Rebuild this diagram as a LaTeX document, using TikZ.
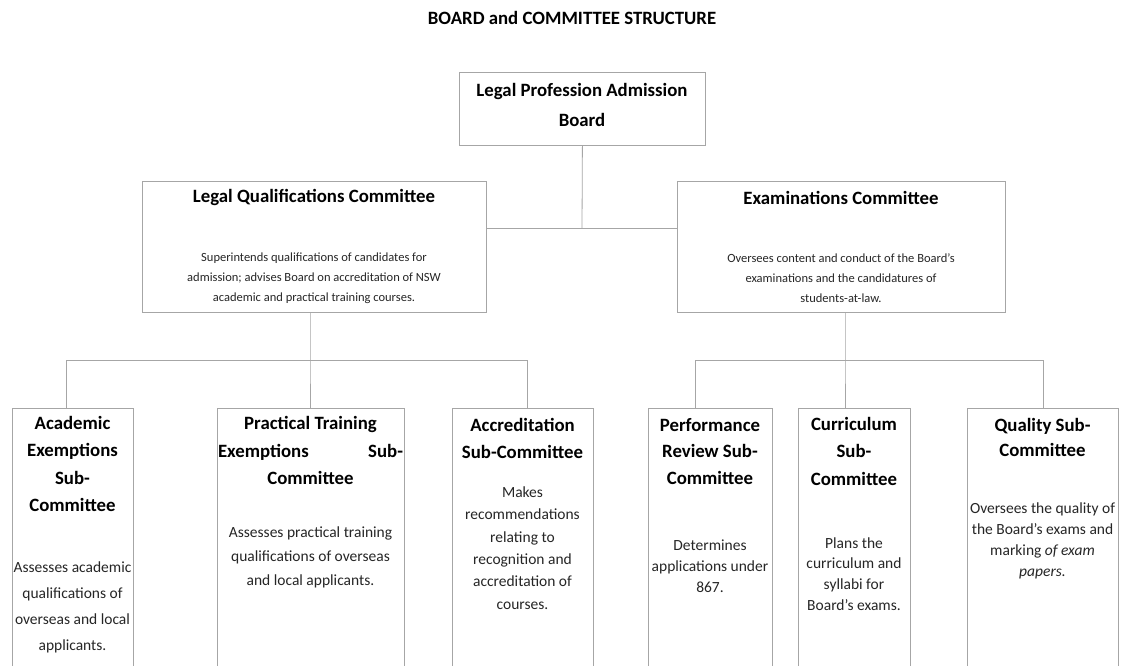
\documentclass[tikz,border=0pt]{standalone}
\usepackage{fontspec}
\setmainfont{Carlito}
\begin{document}
\begin{tikzpicture}[x=1pt,y=-1pt,
  box/.style={draw=gray!70, line width=0.8pt, inner sep=0pt, anchor=north west},
  wire/.style={draw=gray!70, line width=0.8pt},
  head/.style={font=\fontsize{18.8}{#1}\selectfont\bfseries, align=center, inner sep=0pt, text=black},
  head/.default=27,
  desc/.style={font=\fontsize{12.5}{#1}\selectfont, align=center, inner sep=0pt, text=black!85},
  desc/.default=20,
  sdesc/.style={font=\fontsize{15.5}{#1}\selectfont, align=center, inner sep=0pt, text=black!85},
  sdesc/.default=24
]
\useasboundingbox (0,0) rectangle (1122,666);
\fill[white] (0,0) rectangle (1122,666);

% title
\node[head] (title) at (572,18) {BOARD and COMMITTEE STRUCTURE};

% board
\node[box, minimum width=246pt, minimum height=73pt] (board) at (459,72) {};
\node[head=30] (boardT) at (582,105) {Legal Profession Admission\\Board};

% committees
\node[box, minimum width=344pt, minimum height=131pt] (lqc) at (142,181) {};
\node[head] (lqcT) at (314,197) {Legal Qualifications Committee};
\node[desc] (lqcD) at (314,278) {Superintends qualifications of candidates for\\admission; advises Board on accreditation of NSW\\academic and practical training courses.};

\node[box, minimum width=328pt, minimum height=131pt] (ec) at (677,181) {};
\node[head] (ecT) at (841,198) {Examinations Committee};
\node[desc] (ecD) at (841,278) {Oversees content and conduct of the Board’s\\examinations and the candidatures of\\students-at-law.};

% sub-committees (open at the bottom edge of the page)
\node[box, minimum width=121pt, minimum height=272pt] (acad) at (12,408) {};
\node[head=27.5] (acadT) at (72.5,464) {Academic\\Exemptions\\Sub-\\Committee};
\node[sdesc=26] (acadD) at (72.5,607) {Assesses academic\\qualifications of\\overseas and local\\applicants.};

\node[box, minimum width=187pt, minimum height=272pt] (prac) at (217,408) {};
\node[head=27.5] (pracT) at (310.5,450.5) {Practical Training\\\makebox[185pt][s]{Exemptions\hfill Sub-}\\Committee};
\node[sdesc=24] (pracD) at (310.5,557) {Assesses practical training\\qualifications of overseas\\and local applicants.};

\node[box, minimum width=141pt, minimum height=272pt] (accr) at (452,408) {};
\node[head=26.5] (accrT) at (522.5,438.5) {Accreditation\\Sub-Committee};
\node[sdesc=22.4] (accrD) at (522.5,548) {Makes\\recommendations\\relating to\\recognition and\\accreditation of\\courses.};

\node[box, minimum width=124pt, minimum height=272pt] (perf) at (648,408) {};
\node[head=26.5] (perfT) at (710,451.5) {Performance\\Review Sub-\\Committee};
\node[sdesc=21] (perfD) at (710,566) {Determines\\applications under\\867.};

\node[box, minimum width=112pt, minimum height=272pt] (curr) at (798,408) {};
\node[head=27.5] (currT) at (854,451) {Curriculum\\Sub-\\Committee};
\node[sdesc=20.7] (currD) at (854,574) {Plans the\\curriculum and\\syllabi for\\Board’s exams.};

\node[box, minimum width=151pt, minimum height=272pt] (qual) at (967,408) {};
\node[head=25] (qualT) at (1042.5,437.5) {Quality Sub-\\Committee};
\node[sdesc=21] (qualD) at (1042.5,540.5) {Oversees the quality of\\the Board’s exams and\\marking \textit{of exam}\\\textit{papers.}};

% connectors
\coordinate (j0) at (582,228);
\draw[wire] (board.south) -- (j0);
\draw[wire] (lqc.east |- j0) -- (ec.west |- j0);

\coordinate (jl) at (310,360);
\coordinate (bl1) at (66,360);
\coordinate (bl2) at (527,360);
\draw[wire] (lqc.south -| jl) -- (jl) -- (prac.north -| jl);
\draw[wire] (acad.north -| bl1) -- (bl1) -- (bl2) -- (accr.north -| bl2);

\coordinate (jr) at (845,360);
\coordinate (br1) at (695,360);
\coordinate (br2) at (1043,360);
\draw[wire] (ec.south -| jr) -- (jr) -- (curr.north -| jr);
\draw[wire] (perf.north -| br1) -- (br1) -- (br2) -- (qual.north -| br2);
\end{tikzpicture}
\end{document}
